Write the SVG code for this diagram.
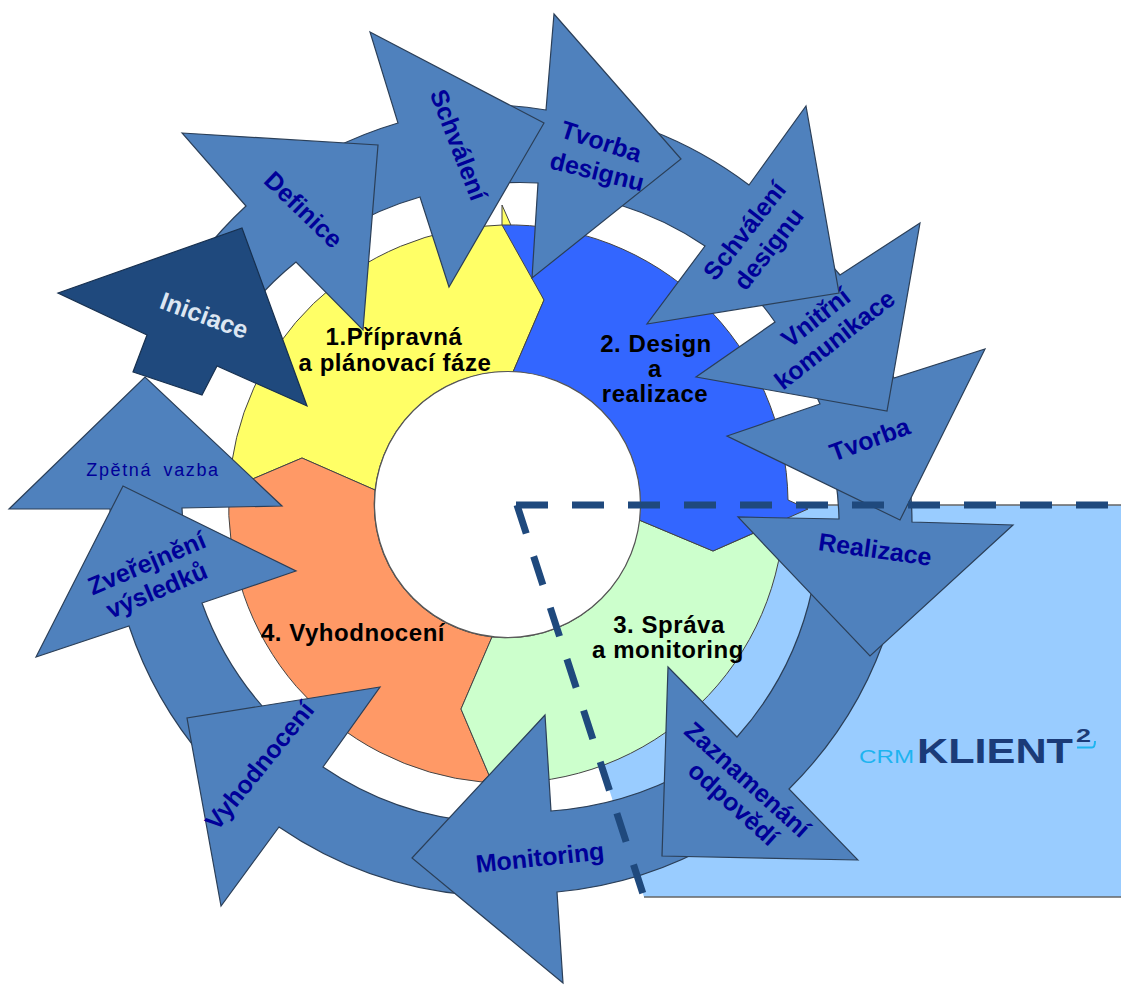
<svg xmlns="http://www.w3.org/2000/svg" width="1121" height="985" viewBox="0 0 1121 985">
<style>
text{font-family:"Liberation Sans",Arial,sans-serif}
.a{fill:#4F81BD;stroke:#2b3f58;stroke-width:1.2;stroke-linejoin:miter}
.s{stroke:#444;stroke-width:1}
.l{fill:#000099;font-weight:bold;font-size:25px;text-anchor:middle}
.k{fill:#000;font-weight:bold;font-size:24px;letter-spacing:.55px;text-anchor:middle}
</style>
<rect width="1121" height="985" fill="#fff"/>
<g id="panel"><path d="M517,505H1121V897H644Z" fill="#99CCFF"/><path d="M517,505H1121M644,897H1121" fill="none" stroke="#666" stroke-width="1.5"/></g>
<g id="segment-1"><path class="s" fill="#FFFF66" d="M229,489A279,279 0 0 1 502,225L502,205L544,300L513,372A133,133 0 0 0 375,490L302,458Z"/><text class="k" x="394" y="345">1.Přípravná</text><text class="k" x="395" y="371">a plánovací fáze</text></g>
<g id="segment-4"><path class="s" fill="#FF9966" d="M302,458L375,490A133,133 0 0 0 492,637L461,709L489,775L482,782A279,279 0 0 1 229,489Z"/><text class="k" x="353" y="641">4. Vyhodnocení</text></g>
<g id="segment-3"><path class="s" fill="#CCFFCC" d="M461,709L492,637A133,133 0 0 0 639,520L713,551L784,520A279,279 0 0 1 482,782L489,775Z"/><text class="k" x="669" y="633">3. Správa</text><text class="k" x="668" y="658">a monitoring</text></g>
<g id="segment-2"><path class="s" fill="#3366FF" d="M502,225A279,279 0 0 1 788,500L808,509L713,551L639,520A133,133 0 0 0 513,372L544,300Z"/><text class="k" x="656" y="352">2. Design</text><text class="k" x="655" y="377">a</text><text class="k" x="655" y="402">realizace</text></g>
<g id="center"><circle cx="507.5" cy="504.5" r="133" fill="#fff" stroke="#555" stroke-width="1.2"/></g>
<g id="zpetna-vazba"><path class="a" d="M9,509L145,377L282,506L182,508A322,322 0 0 0 190,570L115,560A398,398 0 0 1 110,509Z"/><text class="l" transform="translate(153,476)" style="font-weight:normal;font-size:18px;letter-spacing:1.6px;word-spacing:5px">Zpětná vazba</text></g>
<g id="zverejneni"><path class="a" d="M36,657L123,486L296,571L202,603A322,322 0 0 0 275,720L205,760A398,398 0 0 1 129,626Z"/><text class="l" transform="translate(150,571) rotate(-23)">Zveřejnění</text><text class="l" transform="translate(160,598) rotate(-23)">výsledků</text></g>
<g id="vyhodnoceni"><path class="a" d="M221,906L187,718L380,687L323,767A322,322 0 0 0 480,822L470,895A398,398 0 0 1 279,827Z"/><text class="l" transform="translate(260,766) rotate(-51) translate(0,8)">Vyhodnocení</text></g>
<g id="monitoring"><path class="a" d="M563,983L412,858L545,715L551,811A340,340 0 0 0 690,770L720,840A398,398 0 0 1 557,892Z"/><text class="l" transform="translate(540,858) rotate(-6) translate(0,8)">Monitoring</text></g>
<g id="zaznamenani"><path class="a" d="M858,860L662,856L668,667L737,737A325,325 0 0 0 812,590L890,622A400,400 0 0 1 789,789Z"/><text class="l" transform="translate(747,780) rotate(42) translate(0,8)">Zaznamenání</text><text class="l" transform="translate(733,804) rotate(42) translate(0,8)">odpovědí</text></g>
<g id="realizace"><path class="a" d="M1013,525L870,656L738,517L839,519A325,325 0 0 0 830,450L905,450A400,400 0 0 1 912,522Z"/><text class="l" transform="translate(875,550) rotate(8) translate(0,8)">Realizace</text></g>
<g id="tvorba"><path class="a" d="M985,349L900,520L727,436L820,404A325,325 0 0 0 785,340L860,320A398,398 0 0 1 894,378Z"/><text class="l" transform="translate(870,440) rotate(-20) translate(0,8)">Tvorba</text></g>
<g id="vnitrni-komunikace"><path class="a" d="M920,223L887,411L696,377L775,322A322,322 0 0 0 740,280L790,225A398,398 0 0 1 840,275Z"/><text class="l" transform="translate(816,318) rotate(-38) translate(0,8)">Vnitřní</text><text class="l" transform="translate(835,340) rotate(-38) translate(0,8)">komunikace</text></g>
<g id="schvaleni-designu"><path class="a" d="M806,106L839,293L647,324L705,246A322,322 0 0 0 620,205L650,130A398,398 0 0 1 749,185Z"/><text class="l" transform="translate(745,231) rotate(-52) translate(0,8)">Schválení</text><text class="l" transform="translate(769,249) rotate(-52) translate(0,8)">designu</text></g>
<g id="tvorba-designu"><path class="a" d="M554,14L681,159L532,278L538,183A320,320 0 0 0 480,185L500,105A398,398 0 0 1 546,110Z"/><text class="l" transform="translate(601,142) rotate(18) translate(0,8)">Tvorba</text><text class="l" transform="translate(597,172) rotate(14) translate(0,8)">designu</text></g>
<g id="schvaleni"><path class="a" d="M370,32L544,123L449,287L420,197A322,322 0 0 0 340,232L330,150A398,398 0 0 1 398,123Z"/><text class="l" transform="translate(458,145) rotate(69) translate(0,8)">Schválení</text></g>
<g id="definice"><path class="a" d="M182,133L378,145L363,330L296,262A322,322 0 0 0 240,320L190,270A398,398 0 0 1 246,206Z"/><text class="l" transform="translate(303,210) rotate(44) translate(0,8)">Definice</text></g>
<g id="iniciace"><polygon points="58,293 242,228 307,406 217,366 202,395 133,372 147,335" fill="#1F497D" stroke="#17304f" stroke-width="1.2"/><text class="l" style="fill:#DCE6F2" transform="translate(204,316) rotate(20) translate(0,8)">Iniciace</text></g>
<g id="logo">
<text x="859" y="763" font-size="18" fill="#1EB4F0" textLength="55" lengthAdjust="spacingAndGlyphs">CRM</text>
<text x="917" y="763" font-size="35" font-weight="bold" fill="#1B3B78" textLength="156" lengthAdjust="spacingAndGlyphs">KLIENT</text>
<text x="1076" y="742" font-size="19" font-weight="bold" fill="#1B3B78" textLength="15" lengthAdjust="spacingAndGlyphs">2</text>
<path d="M1077,747.500H1092Q1095,747.500 1095,741" fill="none" stroke="#1EB4F0" stroke-width="2"/>
</g>
<g id="connectors" fill="none" stroke="#1F497D" stroke-width="7">
<path d="M516,505H1121" stroke-dasharray="32 24"/>
<path d="M517,505L644,897" stroke-dasharray="30 24"/>
</g>
</svg>
